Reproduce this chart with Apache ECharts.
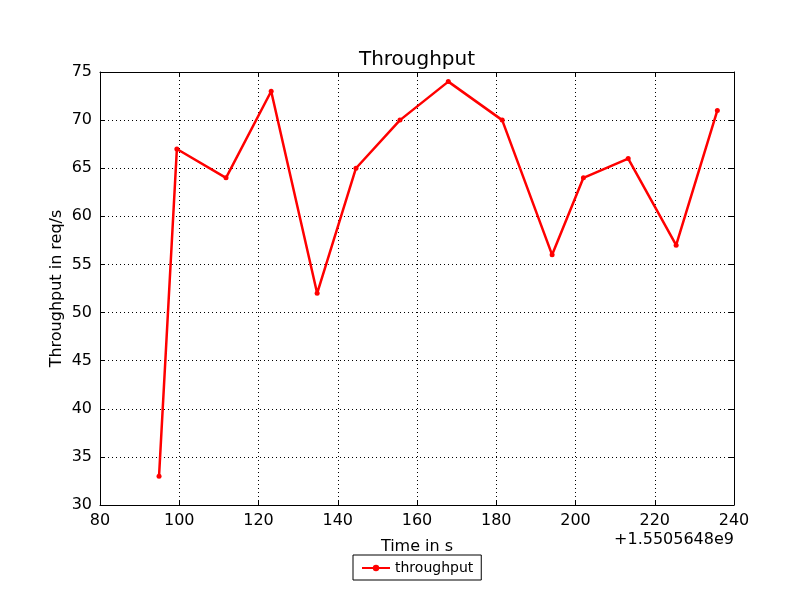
<!DOCTYPE html>
<html>
<head>
<meta charset="utf-8">
<script src="https://cdn.jsdelivr.net/npm/echarts@6/dist/echarts.min.js"></script>
<style>
html,body{margin:0;padding:0;background:#fff;}
#main{width:800px;height:600px;}
</style>
</head>
<body>
<div id="main"></div>
<script>
// time offset from +1.5505648e9 (s)
var timeSec = [94.9, 99.4, 111.8, 123.2, 134.8, 144.6, 155.7, 167.9, 181.5, 194.1, 202.0, 213.3, 225.4, 235.8];
var throughput = [33, 67, 64, 73, 52, 65, 70, 74, 70, 56, 64, 66, 57, 71];
var xTicks = [80, 240, 20];
var yTicks = [30, 75, 5];
var offsetText = '+1.5505648e9';

var pts = [];
for (var i = 0; i < timeSec.length; i++) {
    pts.push([timeSec[i], throughput[i]]);
}

var font = 'DejaVu Sans';
var chart = echarts.init(document.getElementById('main'), null, {renderer: 'canvas'});

function frameAxis(pos, range, show) {
    return {
        type: 'value',
        position: pos,
        min: range[0], max: range[1], interval: range[2],
        axisLine: {show: true, onZero: false, lineStyle: {color: '#000', width: 1}},
        axisTick: {show: true, inside: true, length: 5, lineStyle: {color: '#000'}},
        axisLabel: {show: show, color: '#000', fontFamily: font, fontSize: 16, margin: 8},
        splitLine: {show: show, lineStyle: {color: '#000', type: [1, 3], width: 1}}
    };
}

var xb = frameAxis('bottom', xTicks, true);
xb.name = 'Time in s';
xb.nameLocation = 'middle';
xb.nameGap = 34;
xb.nameMoveOverlap = false;
xb.nameTextStyle = {color: '#000', fontFamily: font, fontSize: 16};
var yl = frameAxis('left', yTicks, true);
yl.name = 'Throughput in req/s';
yl.nameLocation = 'middle';
yl.nameGap = 35;
yl.nameMoveOverlap = false;
yl.nameTextStyle = {color: '#000', fontFamily: font, fontSize: 16};

var option = {
    backgroundColor: '#fff',
    animation: false,
    grid: {left: 100, right: 66, top: 72, bottom: 95},
    xAxis: [xb, frameAxis('top', xTicks, false)],
    yAxis: [yl, frameAxis('right', yTicks, false)],
    legend: {
        data: ['throughput'],
        left: 353, top: 555,
        padding: [6, 8, 5, 8],
        borderColor: '#000', borderWidth: 1, borderRadius: 0,
        itemWidth: 28, itemHeight: 8, itemGap: 8,
        textStyle: {color: '#000', fontFamily: font, fontSize: 14}
    },
    graphic: [{
        type: 'text', x: 417, y: 60,
        style: {text: 'Throughput', fill: '#000', font: '20px DejaVu Sans', align: 'center', verticalAlign: 'middle'}
    }, {
        type: 'text', right: 66, top: 532,
        style: {text: offsetText, fill: '#000', font: '16px DejaVu Sans', textAlign: 'right'}
    }],
    series: [{
        name: 'throughput',
        type: 'line',
        data: pts,
        symbol: 'circle',
        symbolSize: 5,
        lineStyle: {color: '#ff0000', width: 2.5},
        itemStyle: {color: '#ff0000'}
    }]
};
chart.setOption(option);
</script>
</body>
</html>
